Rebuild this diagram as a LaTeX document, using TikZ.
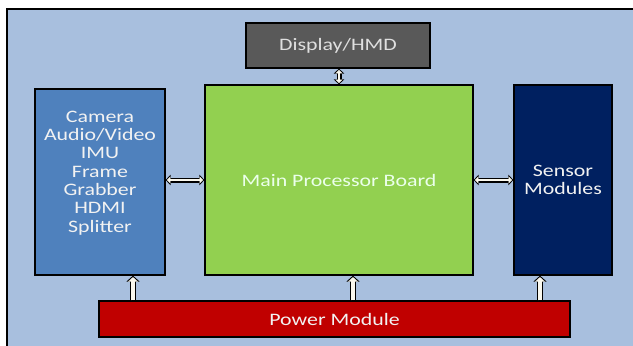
\documentclass[tikz,border=0pt]{standalone}
\usepackage{fontspec}
\setmainfont{Carlito}[FakeStretch=1.25]
\usepackage{tikz}
\usetikzlibrary{arrows.meta}
\definecolor{bgblue}{RGB}{168,191,222}
\definecolor{dispgray}{RGB}{89,89,89}
\definecolor{camblue}{RGB}{79,129,189}
\definecolor{boardgreen}{RGB}{146,208,80}
\definecolor{sensnavy}{RGB}{0,32,96}
\definecolor{powerred}{RGB}{192,0,0}
\definecolor{shaft}{RGB}{250,248,238}
\tikzset{
 blk/.style={draw=black, line width=1.3pt, inner sep=0pt},
 txt/.style={align=center, text=white!95!black, font=\fontsize{17.5}{18.3}\selectfont},
 link/.style={draw=shaft, line width=2.8pt, shorten >=1.3pt, shorten <=1.3pt,
  {Triangle[length=3.5pt,width=7pt]}-{Triangle[length=3.5pt,width=7pt]},
  preaction={draw=black, line width=5pt, shorten >=0pt, shorten <=0pt,
  {Triangle[length=5pt,width=10.5pt]}-{Triangle[length=5pt,width=10.5pt]}}},
 feed/.style={draw=shaft, line width=4.5pt, shorten >=1.4pt, -{Triangle[length=4.5pt,width=9.5pt]},
  preaction={draw=black, line width=6.8pt, shorten >=0pt, -{Triangle[length=6pt,width=13pt]}}},
}

\begin{document}
\begin{tikzpicture}[x=1pt,y=-1pt]
\useasboundingbox (0,0) rectangle (633,346);
\clip (0,0) rectangle (633,346);
\draw[fill=bgblue, line width=1.3pt] (7,9) rectangle (640,352);
\node[blk, txt, fill=dispgray, text=gray!25, minimum width=184, minimum height=45] (disp) at (338,45.5) {Display/HMD};
\node[blk, fill=camblue, minimum width=130, minimum height=186] (cam) at (100,182) {};
\node[txt] (camtxt) at ([yshift=9pt]cam.center) {Camera\\Audio/Video\\IMU\\Frame\\Grabber\\HDMI\\Splitter};
\node[blk, txt, fill=boardgreen, text=green!8!white, minimum width=268, minimum height=190] (board) at (339,180) {Main Processor Board};
\node[blk, txt, fill=sensnavy, minimum width=98, minimum height=190] (sens) at (563,180) {Sensor\\Modules};
\node[blk, txt, fill=powerred, minimum width=471, minimum height=36] (power) at (334.5,319) {Power Module};
% connectors
\draw[link] (cam.east |- board.west) -- (board.west);
\draw[link] (board.east) -- (sens.west);
\draw[link] ([xshift=1pt]disp.south) -- ([xshift=1pt]disp.south |- board.north);
\foreach \t/\dx in {cam/33pt, board/14pt, sens/-23pt}
 \draw[feed] ([xshift=\dx]\t.south |- power.north) -- ([xshift=\dx]\t.south);
\end{tikzpicture}
\end{document}
